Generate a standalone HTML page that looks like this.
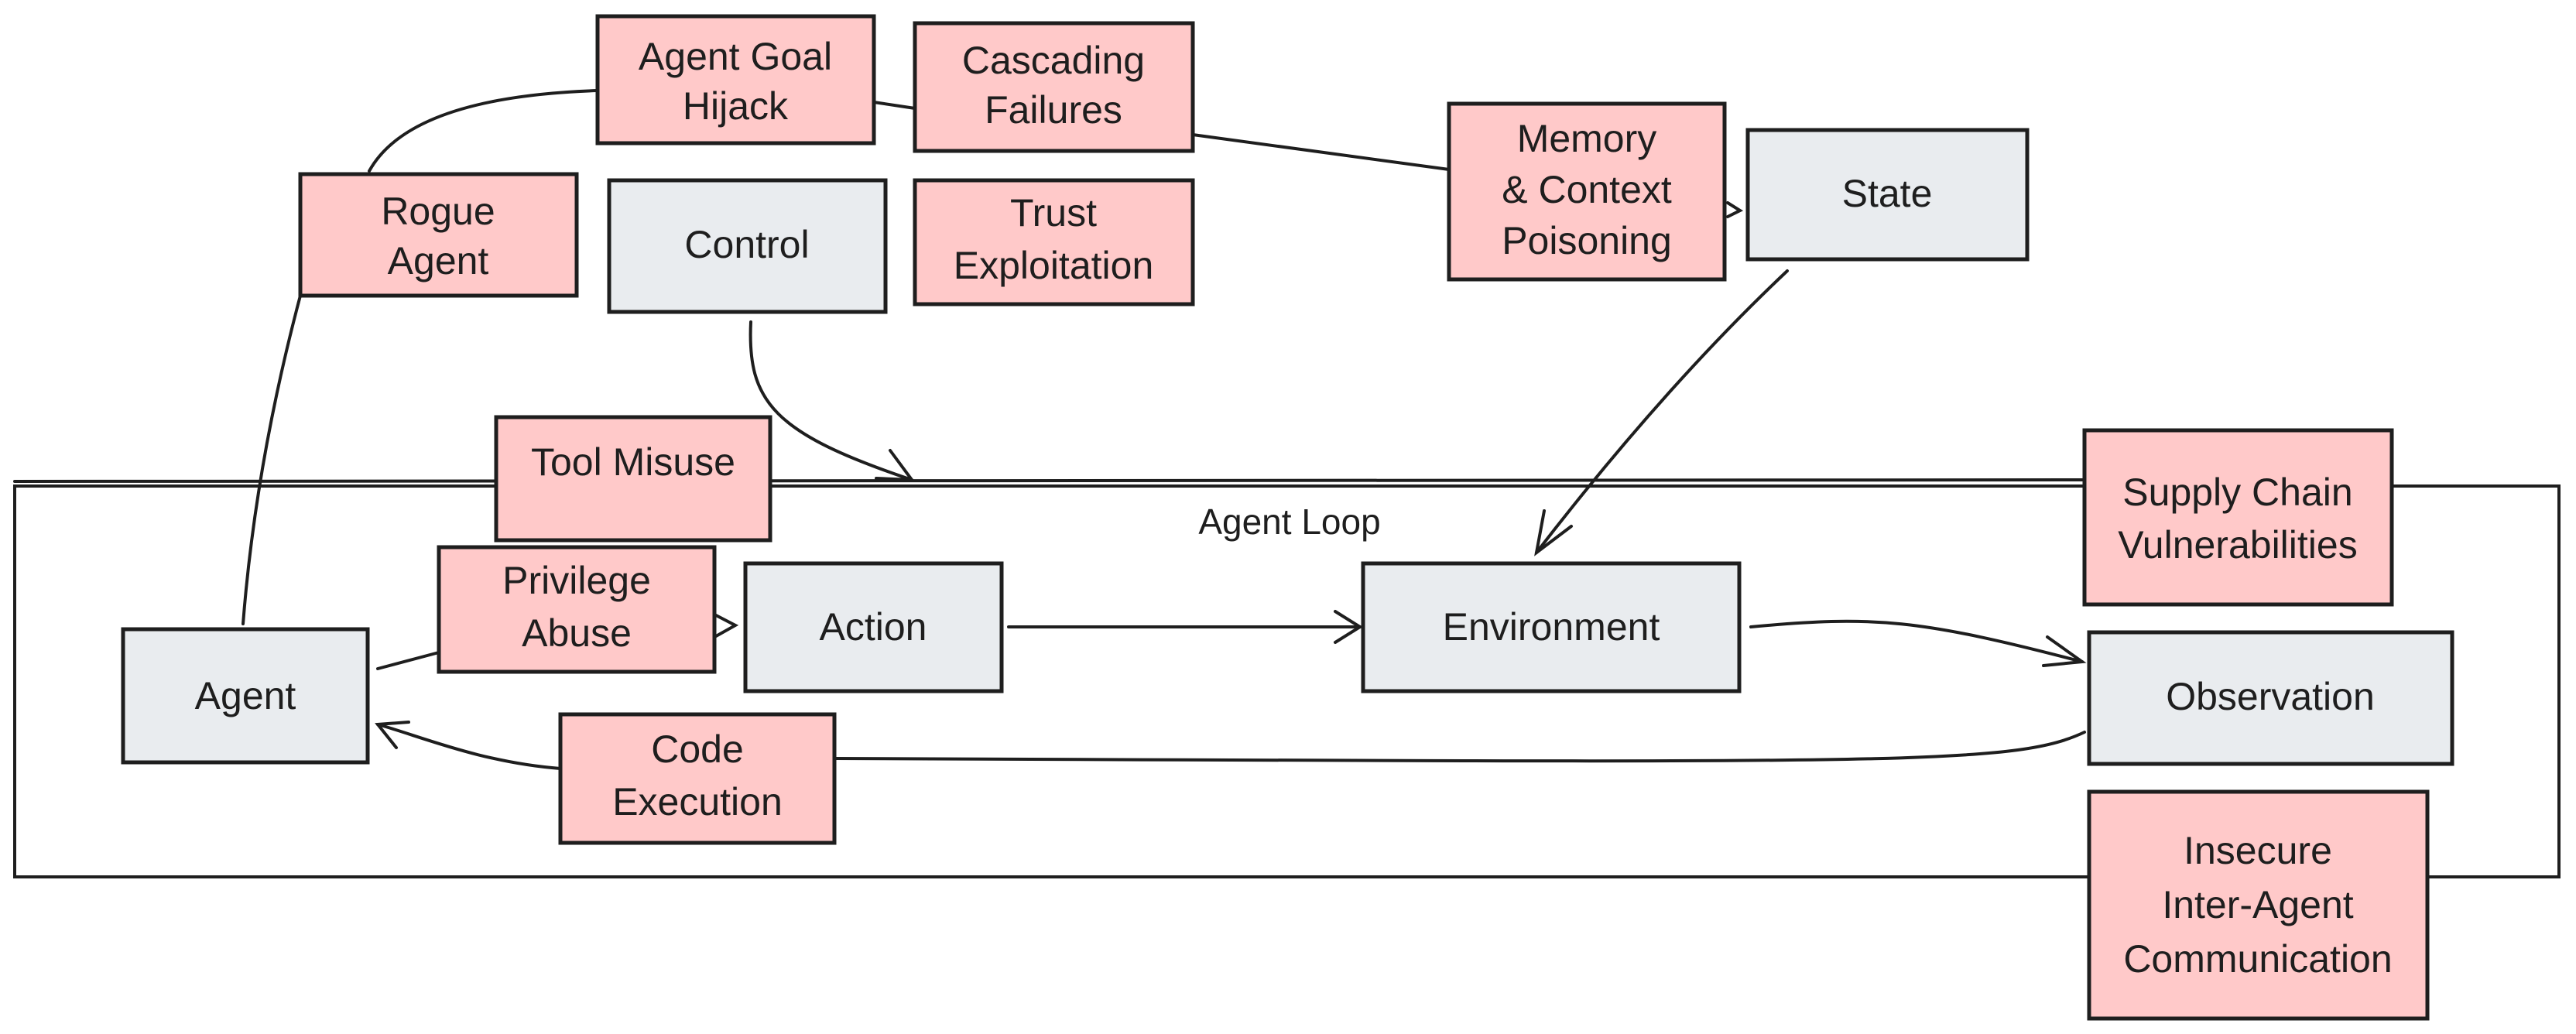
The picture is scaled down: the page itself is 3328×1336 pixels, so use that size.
<!DOCTYPE html>
<html><head><meta charset="utf-8"><style>
html,body{margin:0;padding:0;background:#fff;}
body{width:3328px;height:1336px;overflow:hidden;position:relative;}
svg{position:absolute;left:0;top:0;}
text{font-family:"Liberation Sans",sans-serif;font-size:50px;fill:#1e1e1e;text-anchor:middle;}
.p{fill:#ffc9c9;stroke:#1e1e1e;stroke-width:5;}
.g{fill:#e9ecef;stroke:#1e1e1e;stroke-width:5;}
.l{fill:none;stroke:#1e1e1e;stroke-width:4;stroke-linecap:round;}
</style></head><body>
<svg width="3328" height="1336" viewBox="0 0 3328 1336">
<rect x="19" y="628" width="3287" height="505" fill="none" stroke="#1e1e1e" stroke-width="4"/>
<line x1="19" y1="622" x2="2700" y2="620" class="l" stroke-width="3"/>
<text x="1666" y="690" style="font-size:46px">Agent Loop</text>

<path class="l" d="M477,221 Q530,125 772,117"/>
<path class="l" d="M314,806 Q330,600 388,382" stroke-width="3"/>
<path class="l" d="M1129,132 L1182,140"/>
<path class="l" d="M1541,174 L1872,219" stroke-width="3"/>
<path class="l" d="M2232,262 L2248,272 L2232,280"/>
<path class="l" d="M970,416 C965,520 1000,560 1178,620"/>
<path class="l" d="M1150,582 L1178,620 L1132,618"/>
<path class="l" d="M2309,350 Q2150,500 1985,714" stroke-width="3"/>
<path class="l" d="M2030,680 L1985,714 L1995,660" stroke-width="3"/>
<path class="l" d="M488,864 L567,843"/>
<path class="l" d="M925,795 L950,808 L925,822"/>
<path class="l" d="M1303,810 L1757,810"/>
<path class="l" d="M1725,790 L1757,810 L1725,830"/>
<path class="l" d="M2262,810 C2420,795 2480,800 2690,855"/>
<path class="l" d="M2645,823 L2690,855 L2640,860"/>
<path class="l" d="M2693,946 C2600,990 2450,985 1078,980"/>
<path class="l" d="M724,993 C620,985 540,950 488,936"/>
<path class="l" d="M528,933 L488,936 L512,966"/>

<rect class="p" x="772" y="21" width="357" height="164"/>
<text x="950" y="90">Agent Goal</text><text x="950" y="154">Hijack</text>
<rect class="p" x="1182" y="30" width="359" height="165"/>
<text x="1361" y="95">Cascading</text><text x="1361" y="159">Failures</text>
<rect class="p" x="388" y="225" width="357" height="157"/>
<text x="566" y="290">Rogue</text><text x="566" y="354">Agent</text>
<rect class="g" x="787" y="233" width="357" height="170"/>
<text x="965" y="333">Control</text>
<rect class="p" x="1182" y="233" width="359" height="160"/>
<text x="1361" y="292">Trust</text><text x="1361" y="360">Exploitation</text>
<rect class="p" x="1872" y="134" width="356" height="227"/>
<text x="2050" y="196">Memory</text><text x="2050" y="262">&amp; Context</text><text x="2050" y="328">Poisoning</text>
<rect class="g" x="2258" y="168" width="361" height="167"/>
<text x="2438" y="267">State</text>
<rect class="p" x="641" y="539" width="354" height="159"/>
<text x="818" y="614">Tool Misuse</text>
<rect class="p" x="2693" y="556" width="397" height="225"/>
<text x="2891" y="653">Supply Chain</text><text x="2891" y="721">Vulnerabilities</text>
<rect class="p" x="567" y="707" width="356" height="161"/>
<text x="745" y="767">Privilege</text><text x="745" y="835">Abuse</text>
<rect class="g" x="963" y="728" width="331" height="165"/>
<text x="1128" y="827">Action</text>
<rect class="g" x="159" y="813" width="316" height="172"/>
<text x="317" y="916">Agent</text>
<rect class="g" x="1761" y="728" width="486" height="165"/>
<text x="2004" y="827">Environment</text>
<rect class="g" x="2699" y="817" width="469" height="170"/>
<text x="2933" y="917">Observation</text>
<rect class="p" x="724" y="923" width="354" height="166"/>
<text x="901" y="985">Code</text><text x="901" y="1053">Execution</text>
<rect class="p" x="2699" y="1023" width="437" height="293"/>
<text x="2917" y="1116">Insecure</text><text x="2917" y="1186">Inter-Agent</text><text x="2917" y="1256">Communication</text>
</svg>
</body></html>
